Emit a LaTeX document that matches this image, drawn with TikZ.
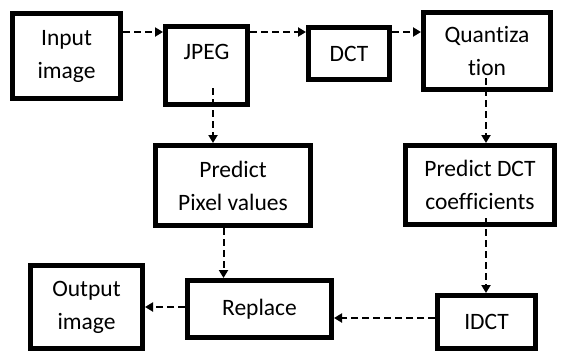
\documentclass[tikz,border=0pt]{standalone}
\usepackage{fontspec}
\setmainfont[Ligatures=CommonOff]{Carlito}
\usetikzlibrary{arrows.meta}
\begin{document}
\begin{tikzpicture}[x=1pt,y=-1pt,
  box/.style={draw,line width=5pt,inner sep=0pt,align=center,
    font=\fontsize{23.5}{33}\selectfont},
  flow/.style={line width=2pt,dash pattern=on 7pt off 4pt,
    -{Triangle[length=8pt,width=9pt]}}]
\useasboundingbox (0,0) rectangle (562,351);
% top row
\node[box,minimum width=108pt,minimum height=85pt] (input) at (66.5,56) {Input\\image};
\node[box,minimum width=82pt,minimum height=78pt,text depth=28pt] (jpeg) at (206.5,65.5) {JPEG};
\node[box,minimum width=81pt,minimum height=52pt] (dct) at (349,53.5) {DCT};
\node[box,minimum width=127pt,minimum height=77pt] (quant) at (487,51) {Quantiza\\tion};
% middle row
\node[box,minimum width=155pt,minimum height=80pt] (ppix) at (233,185.5) {Predict\\Pixel values};
\node[box,minimum width=149pt,minimum height=79pt] (pdct) at (480,185) {Predict DCT\\coefficients};
% bottom row
\node[box,minimum width=112pt,minimum height=83pt] (output) at (86.5,307) {Output\\image};
\node[box,minimum width=144pt,minimum height=57pt] (replace) at (259.5,309) {Replace};
\node[box,minimum width=98pt,minimum height=53pt] (idct) at (486.5,322) {IDCT};
% arrows
\coordinate (row) at (0,32);
\coordinate (mid) at (0,307);
\coordinate (low) at (0,318);
\draw[flow] (input.east |- row) -- (jpeg.west |- row);
\draw[flow] (jpeg.east |- row) -- (dct.west |- row);
\draw[flow] (dct.east |- row) -- (quant.west |- row);
\draw[flow] ([xshift=6.5pt,yshift=19pt]jpeg.south) -- ([xshift=-20pt]ppix.north);
\draw[flow] ([xshift=-1pt,yshift=14pt]quant.south) -- ([xshift=6pt]pdct.north);
\draw[flow] ([xshift=6pt,yshift=9pt]pdct.south) -- ([xshift=-0.5pt]idct.north);
\draw[flow] ([xshift=-9.5pt]ppix.south) -- ([xshift=-36pt]replace.north);
\draw[flow] (idct.west |- low) -- (replace.east |- low);
\draw[flow] (replace.west |- mid) -- (output.east |- mid);
\end{tikzpicture}
\end{document}
